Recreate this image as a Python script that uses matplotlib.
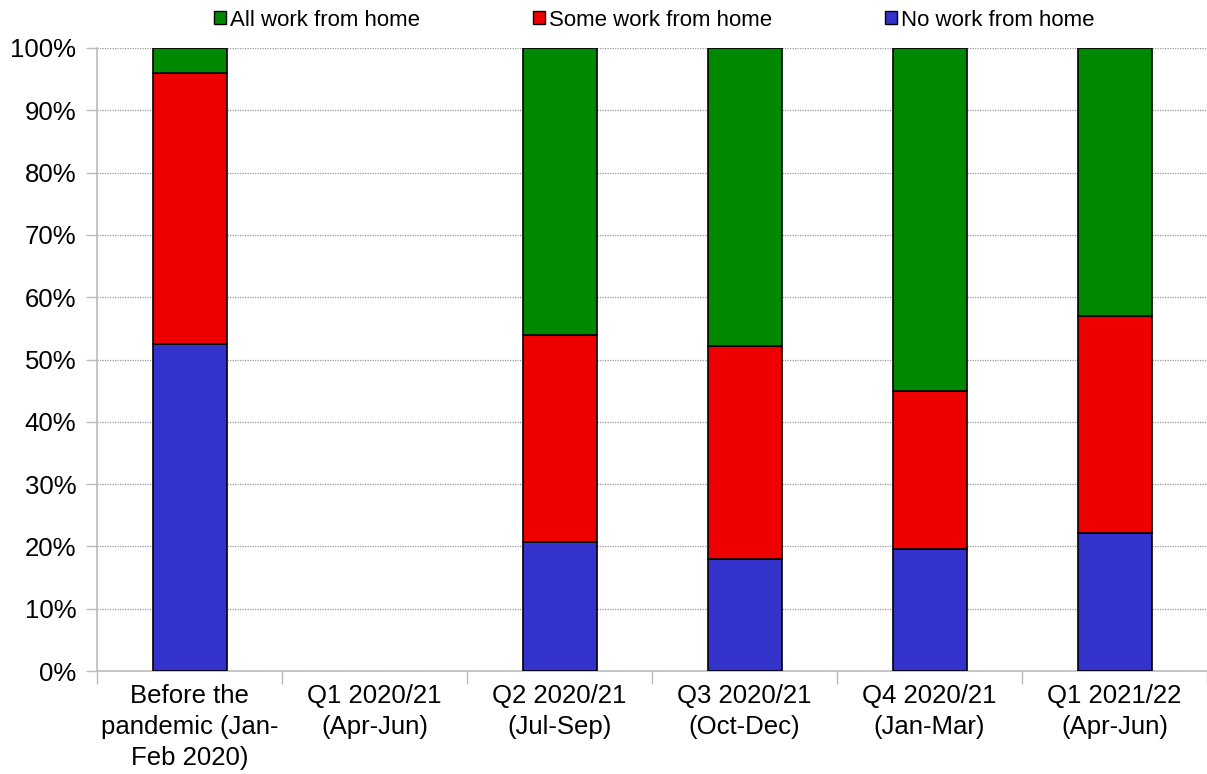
import numpy as np
import matplotlib
matplotlib.use("Agg")
import matplotlib.pyplot as plt
from matplotlib.ticker import MultipleLocator, PercentFormatter, FixedLocator

plt.rcParams['font.family'] = ['Liberation Sans', 'DejaVu Sans']

categories = [
    "Before the\npandemic (Jan-\nFeb 2020)",
    "Q1 2020/21\n(Apr-Jun)",
    "Q2 2020/21\n(Jul-Sep)",
    "Q3 2020/21\n(Oct-Dec)",
    "Q4 2020/21\n(Jan-Mar)",
    "Q1 2021/22\n(Apr-Jun)",
]
no_wfh = [52.5, np.nan, 20.7, 18.0, 19.6, 22.1]
some_wfh = [43.5, np.nan, 33.3, 34.1, 25.3, 34.9]
all_wfh = [4.0, np.nan, 46.0, 47.9, 55.1, 43.0]

series_labels = ["All work from home", "Some work from home", "No work from home"]
colors = {"all": "#008800", "some": "#EE0000", "no": "#3333CC"}

fig = plt.figure(figsize=(12.07, 7.74), dpi=100)
ax = fig.add_axes([0.0804, 0.133, 0.9196, 0.805])

x = np.arange(len(categories))
no = np.array(no_wfh)
some = np.array(some_wfh)
allw = np.array(all_wfh)

kw = dict(width=0.4, edgecolor="black", linewidth=1.2, zorder=3)
b_no = ax.bar(x, no, color=colors["no"], label=series_labels[2], **kw)
b_some = ax.bar(x, some, bottom=no, color=colors["some"], label=series_labels[1], **kw)
b_all = ax.bar(x, allw, bottom=no + some, color=colors["all"], label=series_labels[0], **kw)

ax.set_xlim(-0.5, len(categories) - 0.5)
ax.set_ylim(0, 100)
ax.yaxis.set_major_locator(MultipleLocator(10))
ax.yaxis.set_major_formatter(PercentFormatter(decimals=0))
ax.grid(axis="y", color="#999999", linestyle=(0, (1, 1)), linewidth=0.9, zorder=0)

# category boundaries carry the tick marks, centres carry the labels
ax.xaxis.set_major_locator(FixedLocator(np.arange(-0.5, len(categories), 1.0)))
ax.xaxis.set_major_formatter(plt.NullFormatter())
ax.xaxis.set_minor_locator(FixedLocator(x))
ax.set_xticklabels(categories, minor=True, linespacing=1.38)
ax.tick_params(axis="x", which="major", length=9, color="#BBBBBB", width=1)
ax.tick_params(axis="x", which="minor", length=0, labelsize=18.5, pad=9)
ax.tick_params(axis="y", length=8, color="#BBBBBB", width=1, labelsize=18.5, pad=7)

for s in ("top", "right"):
    ax.spines[s].set_visible(False)
for s in ("left", "bottom"):
    ax.spines[s].set_color("#BBBBBB")
    ax.spines[s].set_linewidth(1.2)

handles = [b_all, b_some, b_no]
leg = fig.legend(handles, series_labels, loc="center", bbox_to_anchor=(0.542, 0.974),
                 ncol=3, frameon=False, fontsize=16, handlelength=0.55, handleheight=0.55,
                 handletextpad=0.15, columnspacing=5.1, borderpad=0.2)
for h in leg.legend_handles:
    h.set_linewidth(1.0)

fig.savefig("out.png", dpi=100)
